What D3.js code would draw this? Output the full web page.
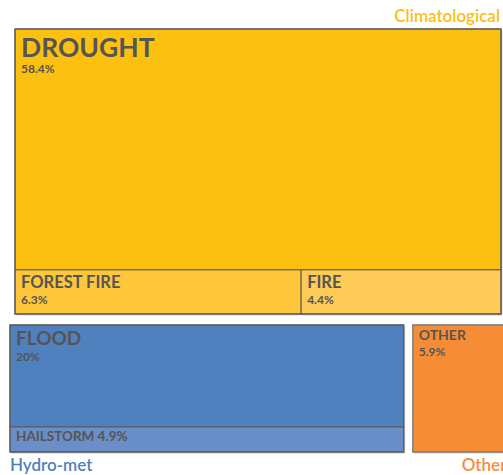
<!DOCTYPE html>
<html>
<head>
<meta charset="utf-8">
<script src="https://cdn.jsdelivr.net/npm/d3@7"></script>
<style>
  body { margin: 0; background: #fff; }
  svg { display: block; font-family: Lato, "Noto Sans", sans-serif; }
</style>
</head>
<body>
<script>
// chart data
const groups = ["Climatological", "Hydro-met", "Other"];
const categories = ["DROUGHT", "FOREST FIRE", "FIRE", "FLOOD", "HAILSTORM", "OTHER"];
const parents = ["Climatological", "Climatological", "Climatological", "Hydro-met", "Hydro-met", "Other"];
const shares = [58.4, 6.3, 4.4, 20, 4.9, 5.9];
const shareLabels = ["58.4%", "6.3%", "4.4%", "20%", "4.9%", "5.9%"];

// styles
const fills = {
  "DROUGHT": "#fcc010", "FOREST FIRE": "#fdc63b", "FIRE": "#feca58",
  "FLOOD": "#4e81be", "HAILSTORM": "#6a8ec8", "OTHER": "#f68d36"
};
const groupColor = {"Climatological": "#fcc010", "Hydro-met": "#4e81be", "Other": "#f68d36"};
const labelSize = {
  "DROUGHT": [26.5, 12], "FOREST FIRE": [16.5, 12], "FIRE": [16.5, 12],
  "FLOOD": [19, 12], "HAILSTORM": [13.5, 13.5], "OTHER": [14, 12]
};
const inline = {"HAILSTORM": true};

var width = 503, height = 475;
var area = {left: 10, top: 29, right: 506, bottom: 452};
var rowGap = 11, colGap = 9, topInset = 5;

const svg = d3.select("body").append("svg")
    .attr("width", width)
    .attr("height", height);

const tree = {name: "root", children: groups.map(g => ({
  name: g,
  children: categories.map((c, i) => ({name: c, value: shares[i], pct: shareLabels[i], parent: parents[i]}))
    .filter(d => d.parent === g)
}))};

// first child across the top, the rest side by side underneath
function tile(node, x0, y0, x1, y1) {
  const kids = node.children;
  const top = node.depth === 0;
  const vg = top && kids.length > 1 ? rowGap : 0;
  const hg = top ? colGap : 0;
  const first = kids[0];
  const yMid = y0 + (y1 - y0 - vg) * first.value / node.value;
  first.x0 = x0 + (top ? topInset : 0); first.x1 = x1 - (top ? topInset : 0);
  first.y0 = y0; first.y1 = yMid;
  const rest = kids.slice(1);
  const restSum = d3.sum(rest, d => d.value);
  const w = (x1 - x0) - hg * (rest.length - 1);
  let x = x0;
  rest.forEach(c => {
    c.x0 = x; c.x1 = x + w * c.value / restSum;
    c.y0 = yMid + vg; c.y1 = y1;
    x = c.x1 + hg;
  });
}

const root = d3.hierarchy(tree).sum(d => d.value || 0);
d3.treemap().tile(tile).size([area.right - area.left, area.bottom - area.top])(root);

const g = svg.append("g").attr("transform", `translate(${area.left},${area.top})`);

const grp = root.children;

// drop shadow
g.selectAll("rect.shadow").data(grp).join("rect")
    .attr("class", "shadow")
    .attr("x", d => d.x0 + 1.5).attr("y", d => d.y0 + 1.5)
    .attr("width", d => d.x1 - d.x0).attr("height", d => d.y1 - d.y0)
    .attr("fill", "#d4d4d4");

const leaves = root.leaves();
g.selectAll("rect.leaf").data(leaves).join("rect")
    .attr("class", "leaf")
    .attr("x", d => d.x0).attr("y", d => d.y0)
    .attr("width", d => d.x1 - d.x0).attr("height", d => d.y1 - d.y0)
    .attr("fill", d => fills[d.data.name])
    .attr("stroke", "#5a5a5a").attr("stroke-width", 1);

g.selectAll("rect.group").data(grp).join("rect")
    .attr("class", "group")
    .attr("x", d => d.x0).attr("y", d => d.y0)
    .attr("width", d => d.x1 - d.x0).attr("height", d => d.y1 - d.y0)
    .attr("fill", "none")
    .attr("stroke", d => d.data.name === "Other" ? "#8a8a8a" : "#5a5a5a")
    .attr("stroke-width", 1.2);

// leaf labels
const nameY = d => d.y0 + labelSize[d.data.name][0] * 1.07;
const lab = g.selectAll("g.lab").data(leaves).join("g").attr("class", "lab");
lab.append("text")
    .attr("x", d => d.x0 + 6)
    .attr("y", nameY)
    .attr("font-size", d => labelSize[d.data.name][0])
    .attr("font-weight", 700)
    .attr("fill", "#555")
    .text(d => inline[d.data.name] ? d.data.name + " " + d.data.pct : d.data.name);

lab.filter(d => !inline[d.data.name]).append("text")
    .attr("x", d => d.x0 + 6)
    .attr("y", d => nameY(d) + 16)
    .attr("font-size", d => labelSize[d.data.name][1])
    .attr("font-weight", 700)
    .attr("fill", "#555")
    .text(d => d.data.pct);

// group labels
svg.append("text")
    .attr("x", area.left + grp[0].x1 - 1).attr("y", 22)
    .attr("text-anchor", "end")
    .attr("font-size", 17).attr("font-weight", 600)
    .attr("fill", groupColor["Climatological"])
    .text("Climatological");

svg.append("text")
    .attr("x", area.left + grp[1].x0).attr("y", area.bottom + 19)
    .attr("font-size", 17).attr("font-weight", 600)
    .attr("fill", groupColor["Hydro-met"])
    .text("Hydro-met");

svg.append("text")
    .attr("x", area.left + grp[2].x0 + 49).attr("y", area.bottom + 19)
    .attr("font-size", 17).attr("font-weight", 600)
    .attr("fill", groupColor["Other"])
    .text("Other");
</script>
</body>
</html>
